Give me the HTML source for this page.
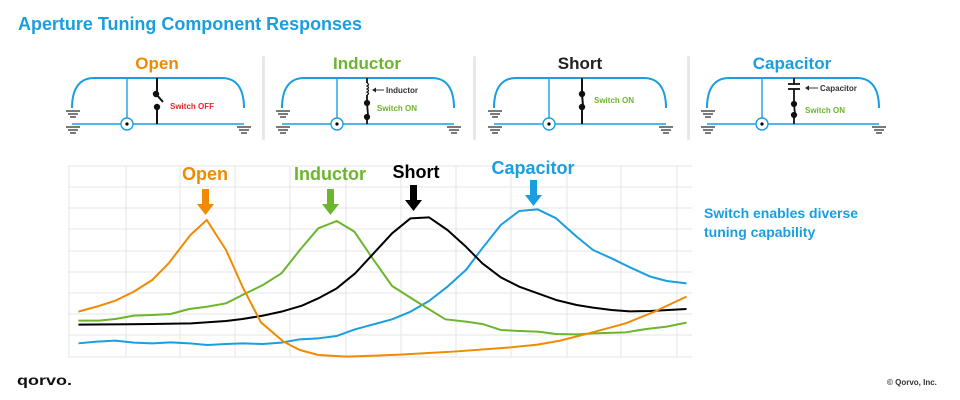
<!DOCTYPE html>
<html><head><meta charset="utf-8"><style>
html,body{margin:0;padding:0;background:#fff;width:960px;height:400px;overflow:hidden}
svg{display:block}
text{font-family:"Liberation Sans","DejaVu Sans",sans-serif;font-weight:bold}
</style></head><body>
<svg width="960" height="400" viewBox="0 0 960 400" xmlns="http://www.w3.org/2000/svg">
<defs>
<g id="gnd" stroke="#333" stroke-width="1.3">
<line x1="-7" y1="0" x2="7" y2="0"/><line x1="-5" y1="3" x2="5" y2="3"/><line x1="-3" y1="6" x2="3" y2="6"/>
</g>
<g id="base">
<path d="M0,108 C0,88 8,78 22,78 L150,78 C164,78 172,88 172,108" fill="none" stroke="#1a9ee0" stroke-width="2"/>
<line x1="0" y1="124" x2="172" y2="124" stroke="#1a9ee0" stroke-width="1.6"/>
<line x1="55" y1="78" x2="55" y2="118" stroke="#1a9ee0" stroke-width="1.4"/>
<circle cx="55" cy="124" r="6" fill="#fff" stroke="#1a9ee0" stroke-width="1.4"/>
<circle cx="55" cy="124" r="1.6" fill="#000"/>
<use href="#gnd" x="1" y="111"/>
<use href="#gnd" x="1" y="127"/>
<use href="#gnd" x="172" y="127"/>
</g>
</defs>
<text x="18" y="30" font-size="18" fill="#1a9ee0" textLength="344" lengthAdjust="spacingAndGlyphs">Aperture Tuning Component Responses</text>

<!-- separators -->
<rect x="262" y="56" width="3" height="84" rx="1.5" fill="#e8e8e8"/>
<rect x="473" y="56" width="3" height="84" rx="1.5" fill="#e8e8e8"/>
<rect x="687" y="56" width="3" height="84" rx="1.5" fill="#e8e8e8"/>

<!-- Panel 1 Open -->
<text x="157" y="69" font-size="17" fill="#f08a00" text-anchor="middle">Open</text>
<g transform="translate(72,0)"><use href="#base"/></g>
<g stroke="#111" stroke-width="2" fill="#111">
<line x1="157" y1="78" x2="157" y2="93"/><circle cx="156" cy="94" r="2.2"/>
<line x1="156" y1="94" x2="163" y2="102"/>
<circle cx="157" cy="107" r="2.2"/><line x1="157" y1="107" x2="157" y2="124"/>
</g>
<text x="170" y="109" font-size="8" fill="#e8242c">Switch OFF</text>

<!-- Panel 2 Inductor -->
<text x="367" y="69" font-size="17" fill="#6cb52d" text-anchor="middle">Inductor</text>
<g transform="translate(282,0)"><use href="#base"/></g>
<g stroke="#111" stroke-width="1.8" fill="#111">
<line x1="367" y1="78" x2="367" y2="83"/>
<path d="M367,83 q3,1.5 0,3 q3,1.5 0,3 q3,1.5 0,3 q3,1.5 0,3" fill="none" stroke-width="1.2"/>
<line x1="367" y1="95" x2="367" y2="102"/><circle cx="367" cy="103" r="2.2"/>
<line x1="367" y1="103" x2="368" y2="115"/>
<circle cx="367" cy="117" r="2.2"/><line x1="367" y1="117" x2="367" y2="124"/>
</g>
<line x1="374" y1="90" x2="384" y2="90" stroke="#222" stroke-width="0.9"/><path d="M372,90 l4,-2.5 v5z" fill="#222"/>
<text x="386" y="93" font-size="8" fill="#333" font-weight="normal">Inductor</text>
<text x="377" y="111" font-size="8" fill="#6cb52d">Switch ON</text>

<!-- Panel 3 Short -->
<text x="580" y="69" font-size="17" fill="#222" text-anchor="middle">Short</text>
<g transform="translate(494,0)"><use href="#base"/></g>
<g stroke="#111" stroke-width="2" fill="#111">
<line x1="582" y1="78" x2="582" y2="93"/><circle cx="582" cy="94" r="2.2"/>
<line x1="582" y1="94" x2="583" y2="106"/>
<circle cx="582" cy="107" r="2.2"/><line x1="582" y1="107" x2="582" y2="124"/>
</g>
<text x="594" y="103" font-size="8" fill="#6cb52d">Switch ON</text>

<!-- Panel 4 Capacitor -->
<text x="792" y="69" font-size="17" fill="#1a9ee0" text-anchor="middle">Capacitor</text>
<g transform="translate(707,0)"><use href="#base"/></g>
<g stroke="#111" stroke-width="1.8" fill="#111">
<line x1="794" y1="78" x2="794" y2="84"/>
<line x1="788" y1="84" x2="800" y2="84"/><line x1="788" y1="89" x2="800" y2="89"/>
<line x1="794" y1="89" x2="794" y2="103"/><circle cx="794" cy="104" r="2.2"/>
<line x1="794" y1="104" x2="795" y2="114"/>
<circle cx="794" cy="115" r="2.2"/><line x1="794" y1="115" x2="794" y2="124"/>
</g>
<line x1="807" y1="88" x2="818" y2="88" stroke="#222" stroke-width="0.9"/><path d="M805,88 l4,-2.5 v5z" fill="#222"/>
<text x="820" y="91" font-size="8" fill="#333" font-weight="normal">Capacitor</text>
<text x="805" y="113" font-size="8" fill="#6cb52d">Switch ON</text>

<!-- grid -->
<g stroke="#e6e6e6" stroke-width="1">
<line x1="68" y1="166" x2="692" y2="166"/><line x1="68" y1="187" x2="692" y2="187"/>
<line x1="68" y1="208" x2="692" y2="208"/><line x1="68" y1="229" x2="692" y2="229"/>
<line x1="68" y1="251" x2="692" y2="251"/><line x1="68" y1="272" x2="692" y2="272"/>
<line x1="68" y1="293" x2="692" y2="293"/><line x1="68" y1="314" x2="692" y2="314"/>
<line x1="68" y1="335" x2="692" y2="335"/><line x1="68" y1="357" x2="692" y2="357"/>
<line x1="69" y1="166" x2="69" y2="357"/><line x1="126" y1="166" x2="126" y2="357"/>
<line x1="180" y1="166" x2="180" y2="357"/><line x1="235" y1="166" x2="235" y2="357"/>
<line x1="290" y1="166" x2="290" y2="357"/><line x1="346" y1="166" x2="346" y2="357"/>
<line x1="401" y1="166" x2="401" y2="357"/><line x1="456" y1="166" x2="456" y2="357"/>
<line x1="511" y1="166" x2="511" y2="357"/><line x1="567" y1="166" x2="567" y2="357"/>
<line x1="621" y1="166" x2="621" y2="357"/><line x1="677" y1="166" x2="677" y2="357"/>
</g>

<!-- curves -->
<g transform="translate(60,150) scale(0.41,0.3333)" fill="none" stroke-width="2" stroke-linejoin="round">
<polyline vector-effect="non-scaling-stroke" stroke="#1a9ee0" points="45,580 90,575 135,572 180,578 225,580 270,577 315,580 360,585 405,582 445,580 495,582 540,578 585,568 630,565 675,558 720,538 765,523 810,508 855,485 900,453 945,410 990,360 1030,295 1075,225 1120,183 1165,178 1210,205 1260,260 1300,300 1345,325 1390,352 1440,380 1480,393 1528,400"/>
<polyline vector-effect="non-scaling-stroke" stroke="#6cb52d" points="45,512 95,512 135,507 180,497 225,495 270,492 315,477 360,470 405,460 445,435 495,405 540,370 585,300 630,235 675,213 718,245 765,330 810,408 870,455 940,508 990,515 1030,522 1075,540 1120,543 1165,545 1210,552 1260,553 1300,550 1380,547 1430,537 1480,530 1528,518"/>
<polyline vector-effect="non-scaling-stroke" stroke="#000" points="45,524 225,522 320,520 405,513 445,507 495,497 540,485 590,467 630,445 675,415 720,370 765,310 810,250 855,205 900,202 945,240 990,290 1030,340 1075,382 1120,410 1165,430 1210,450 1260,465 1300,473 1345,480 1390,484 1440,483 1528,477"/>
<polyline vector-effect="non-scaling-stroke" stroke="#f08a00" points="45,485 95,468 135,452 180,425 225,390 265,340 318,255 358,210 405,300 445,410 490,517 545,575 585,600 630,615 700,620 830,614 970,604 1100,592 1165,584 1220,572 1290,550 1380,520 1450,485 1528,440"/>
</g>

<!-- peak labels & arrows -->
<text x="205" y="180" font-size="18" fill="#f08a00" text-anchor="middle">Open</text>
<path d="M202,189 h7 v15 h5 l-8.5,11 l-8.5,-11 h5z" fill="#f08a00"/>
<text x="330" y="180" font-size="18" fill="#6cb52d" text-anchor="middle">Inductor</text>
<path d="M327,189 h7 v15 h5 l-8.5,11 l-8.5,-11 h5z" fill="#6cb52d"/>
<text x="416" y="178" font-size="18" fill="#000" text-anchor="middle">Short</text>
<path d="M410,185 h7 v15 h5 l-8.5,11 l-8.5,-11 h5z" fill="#000"/>
<text x="533" y="174" font-size="18" fill="#1a9ee0" text-anchor="middle">Capacitor</text>
<path d="M530,180 h7 v15 h5 l-8.5,11 l-8.5,-11 h5z" fill="#1a9ee0"/>

<text x="704" y="218" font-size="14" fill="#1a9ee0">Switch enables diverse</text>
<text x="704" y="237" font-size="14" fill="#1a9ee0">tuning capability</text>

<text x="17" y="385" font-size="14" fill="#111" textLength="55" lengthAdjust="spacingAndGlyphs">qorvo.</text>
<text x="887" y="385" font-size="8" fill="#333" font-weight="normal">© Qorvo, Inc.</text>
</svg>
</body></html>
